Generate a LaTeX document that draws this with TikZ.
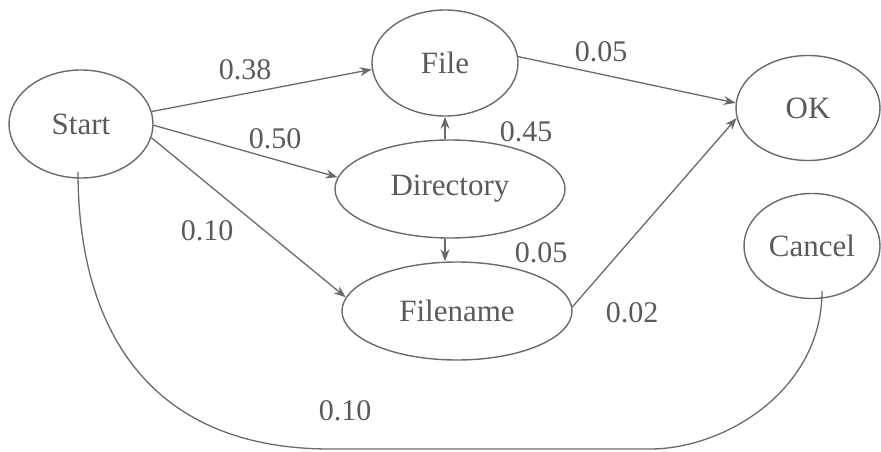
\documentclass[tikz,border=0pt]{standalone}
\usepackage{fontspec}
\newfontfamily\tnr{LiberationSerif-Regular.ttf}
\usetikzlibrary{arrows.meta,shapes.geometric}
\definecolor{ink}{HTML}{5A5A5A}
\definecolor{linec}{HTML}{6A6A6A}
\begin{document}
\begin{tikzpicture}[x=1pt,y=-1pt,
  state/.style={ellipse,draw=linec,line width=1.4pt,inner sep=0pt,text=ink,font=\tnr\fontsize{31}{34}\selectfont},
  lab/.style={text=ink,font=\tnr\fontsize{30}{33}\selectfont,inner sep=0pt},
  arr/.style={draw=linec,line width=1.3pt,-{Stealth[length=12pt,width=9pt]}},
  plain/.style={draw=linec,line width=1.3pt}]
\useasboundingbox (0,0) rectangle (881,452);
\node[state,minimum width=144pt,minimum height=108pt] (Start) at (81,124) {Start};
\node[state,minimum width=146pt,minimum height=106pt] (File) at (445,63) {File};
\node[state,minimum width=230pt,minimum height=98pt] (Directory) at (450,189) {Directory};
\node[state,minimum width=230pt,minimum height=98pt] (Filename) at (457,311) {Filename};
\node[state,minimum width=144pt,minimum height=105pt] (OK) at (808,108) {OK};
\node[state,minimum width=136pt,minimum height=105pt] (Cancel) at (812,246) {Cancel};
% edges
\draw[arr] (Start.10) -- (File.185);
\draw[arr] (Start.-1) -- (Directory.174);
\draw[arr] (Start.-11) -- (Filename.173);
\draw[arr] ([xshift=-5pt]Directory.north) -- ([xshift=-5pt]Directory.north |- File.south);
\draw[arr] ([xshift=-5pt]Directory.south) -- ([xshift=-5pt]Directory.south |- Filename.north);
\draw[arr] (File.5) -- (OK.176);
\draw[arr] (Filename.2) -- (OK.188);
\coordinate (c1) at ([shift={(-3pt,7pt)}]Start.south);
\coordinate (c2) at ([shift={(10pt,8pt)}]Cancel.south);
\draw[plain] (c1) .. controls (78,330) and (150,449) .. (330,449)
  -- (650,449) .. controls (725,449) and (822,390) .. (c2);
% labels
\node[lab] (l1) at (245,70) {0.38};
\node[lab] (l2) at (275,139) {0.50};
\node[lab] (l3) at (207,231) {0.10};
\node[lab] (l4) at (526,132) {0.45};
\node[lab] (l5) at (541,253) {0.05};
\node[lab] (l6) at (601,52) {0.05};
\node[lab] (l7) at (632,313) {0.02};
\node[lab] (l8) at (345,411) {0.10};
\end{tikzpicture}
\end{document}
